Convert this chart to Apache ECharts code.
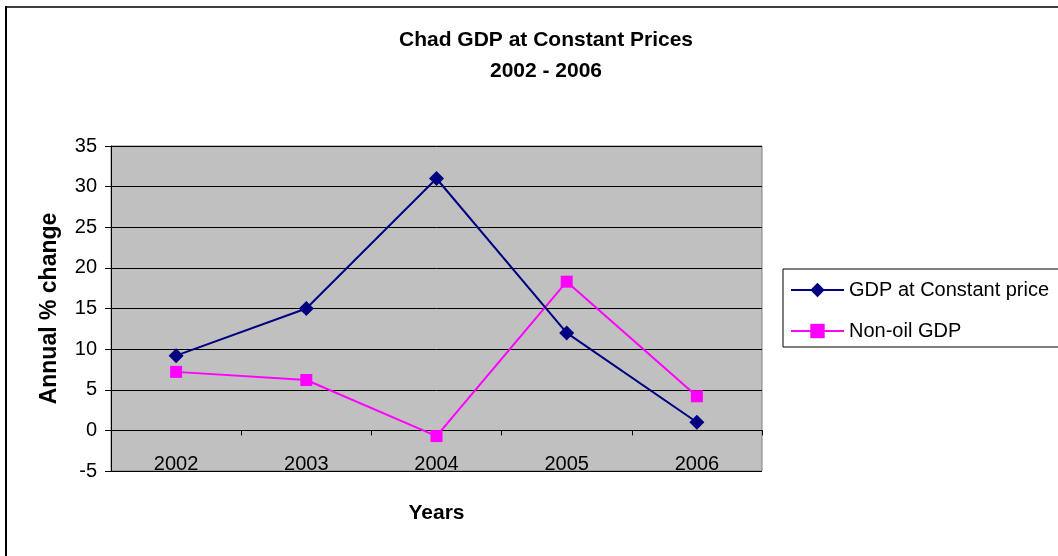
<!DOCTYPE html>
<html>
<head>
<meta charset="utf-8">
<script src="https://cdn.jsdelivr.net/npm/echarts@6/dist/echarts.min.js"></script>
<style>
  html, body { margin: 0; padding: 0; background: #fff; }
  #chart { width: 1058px; height: 556px; }
</style>
</head>
<body>
<div id="chart"></div>
<script>
// Years on the category axis
const years = ['2002', '2003', '2004', '2005', '2006'];
// Annual % change, real GDP
const gdpConstant = [9.2, 15, 31, 12, 1];
// Annual % change, non-oil GDP
const nonOilGdp = [7.2, 6.2, -0.7, 18.3, 4.2];
// Value-axis range and step
const yMin = -5, yMax = 35, yStep = 5;

const FONT = '"Liberation Sans", Arial, sans-serif';

const chart = echarts.init(document.getElementById('chart'), null, { renderer: 'canvas' });
chart.setOption({
  backgroundColor: '#ffffff',
  animation: false,
  textStyle: { fontFamily: FONT },
  title: {
    text: 'Chad GDP at Constant Prices\n2002 - 2006',
    left: 541,
    textAlign: 'center',
    top: 20,
    textStyle: { fontFamily: FONT, fontSize: 21, fontWeight: 'bold', color: '#000', lineHeight: 31 }
  },
  graphic: [
    { type: 'line', shape: { x1: 6, y1: 7, x2: 1058, y2: 7 }, style: { stroke: '#404040', lineWidth: 2 }, silent: true },
    { type: 'line', shape: { x1: 6, y1: 6, x2: 6, y2: 556 }, style: { stroke: '#000', lineWidth: 2 }, silent: true }
  ],
  legend: {
    orient: 'vertical',
    left: 783,
    top: 269,
    padding: [11, 40, 6, 7],
    itemGap: 21,
    itemWidth: 53,
    itemHeight: 18,
    borderColor: '#000',
    borderWidth: 1,
    backgroundColor: '#fff',
    textStyle: { fontFamily: FONT, fontSize: 20, color: '#000', lineHeight: 18 },
    data: ['GDP at Constant price', 'Non-oil GDP']
  },
  grid: {
    left: 111,
    right: 296,
    top: 146,
    bottom: 85,
    outerBoundsMode: 'none',
    containLabel: false,
    show: true,
    backgroundColor: '#C0C0C0',
    borderColor: '#808080',
    borderWidth: 1
  },
  xAxis: {
    type: 'category',
    data: years,
    boundaryGap: true,
    name: 'Years',
    nameLocation: 'middle',
    nameGap: 32,
    nameTextStyle: { fontFamily: FONT, fontSize: 21, fontWeight: 'bold', color: '#000' },
    axisLine: { onZero: true, lineStyle: { color: '#000', width: 1 } },
    axisTick: { show: true, length: 5, lineStyle: { color: '#000' } },
    axisLabel: { fontFamily: FONT, fontSize: 20, color: '#000', inside: true, margin: -3 },
    splitLine: { show: false }
  },
  yAxis: {
    type: 'value',
    min: yMin,
    max: yMax,
    interval: yStep,
    name: 'Annual % change',
    nameLocation: 'middle',
    nameGap: 50,
    nameTextStyle: { fontFamily: FONT, fontSize: 23, fontWeight: 'bold', color: '#000' },
    axisLine: { show: true, lineStyle: { color: '#000', width: 1 } },
    axisTick: { show: true, length: 6, lineStyle: { color: '#000' } },
    axisLabel: { fontFamily: FONT, fontSize: 20, color: '#000', margin: 14 },
    splitLine: { show: true, lineStyle: { color: '#000', width: 1 } }
  },
  series: [
    {
      name: 'GDP at Constant price',
      type: 'line',
      data: gdpConstant,
      symbol: 'diamond',
      symbolSize: 15,
      color: '#000080',
      lineStyle: { color: '#000080', width: 2 },
      itemStyle: { color: '#000080' },
      z: 3
    },
    {
      name: 'Non-oil GDP',
      type: 'line',
      data: nonOilGdp,
      symbol: 'rect',
      symbolSize: 12,
      color: '#FF00FF',
      lineStyle: { color: '#FF00FF', width: 2 },
      itemStyle: { color: '#FF00FF' },
      z: 2
    }
  ]
});
</script>
</body>
</html>
